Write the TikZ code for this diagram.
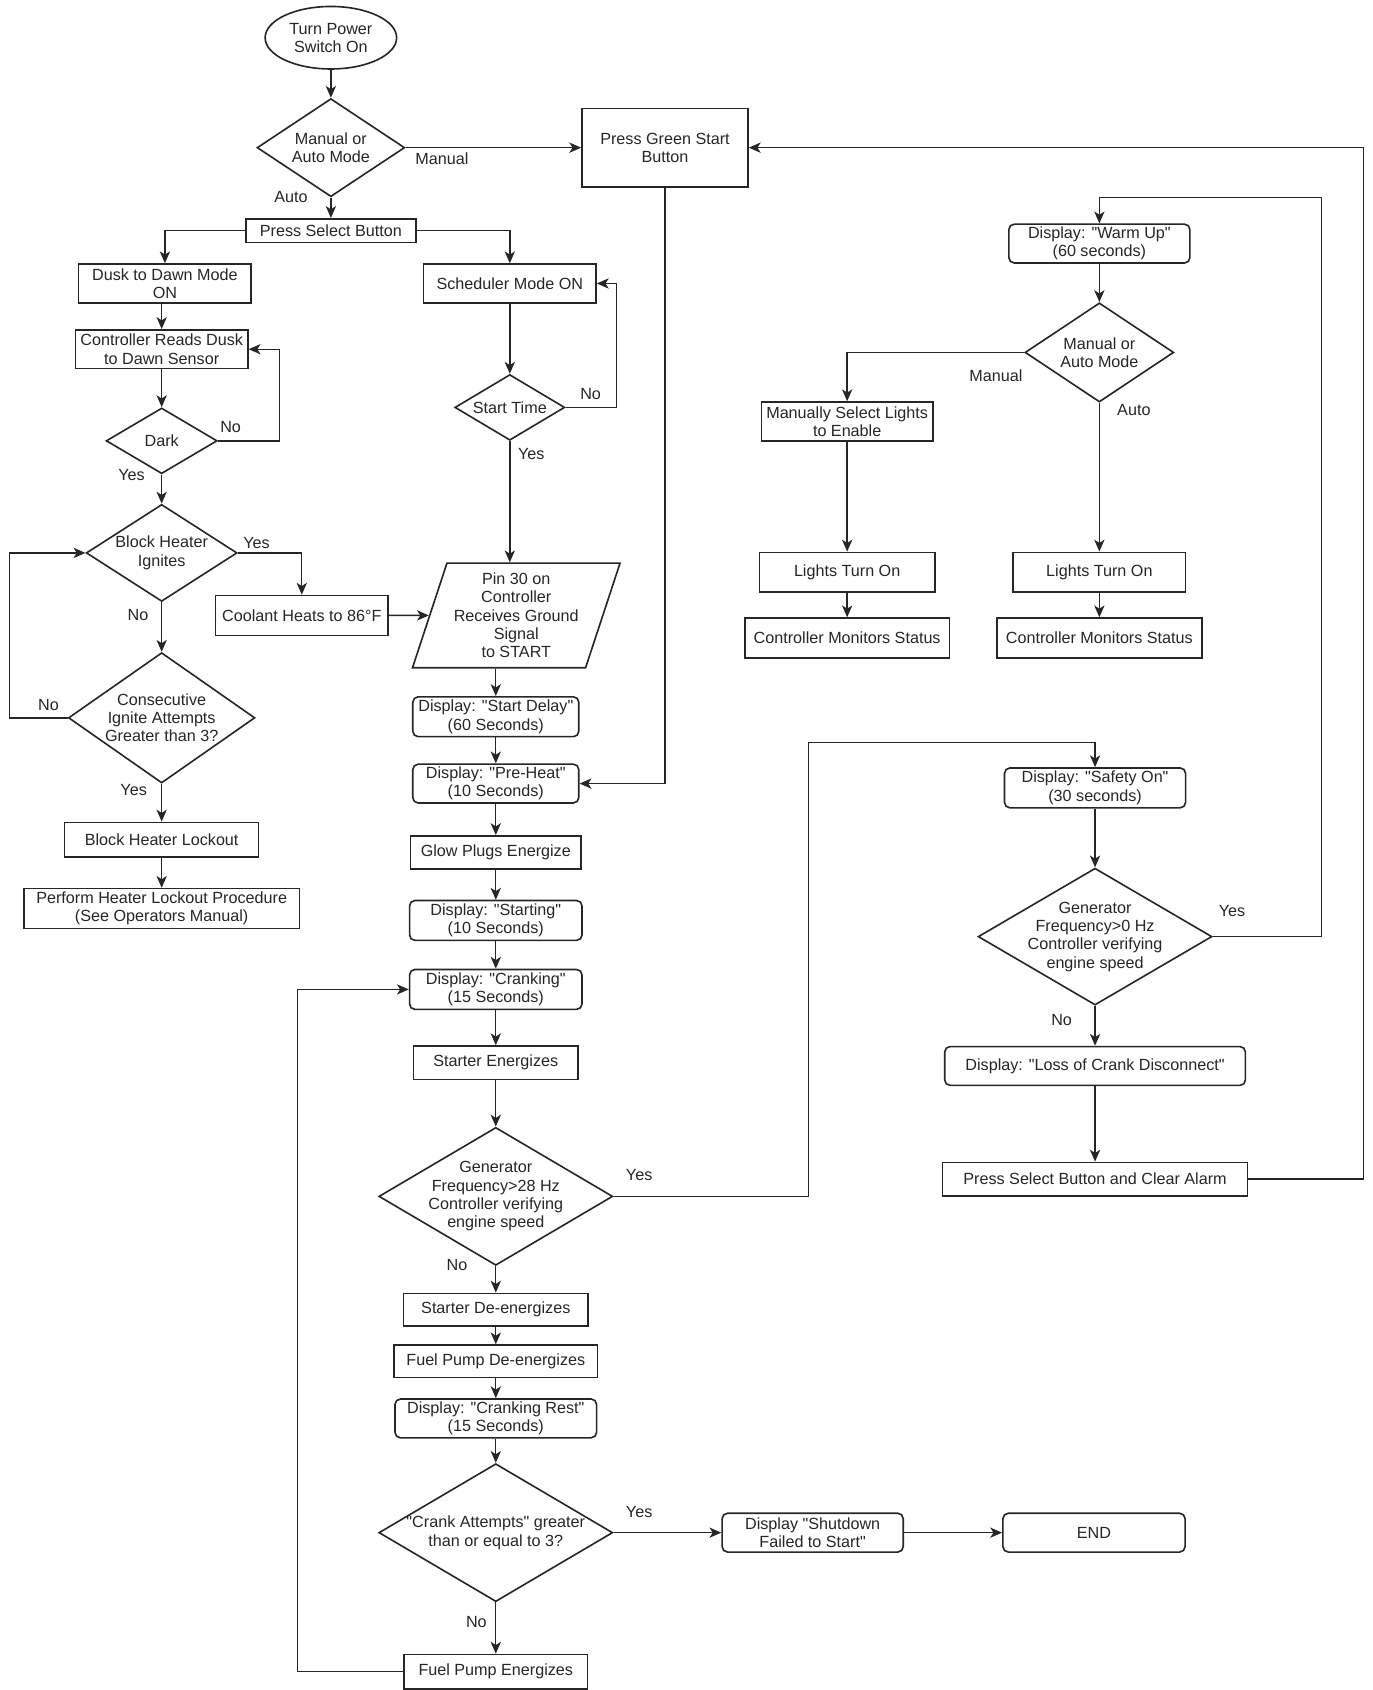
\documentclass[tikz,border=0pt]{standalone}
\usepackage{fontspec}
\setmainfont{Liberation Sans}[Ligatures=TeXOff]
\usetikzlibrary{positioning, arrows.meta, shapes.geometric}

\begin{document}
\begin{tikzpicture}[
    x=1pt, y=-1pt,
    every node/.style={font=\fontsize{15}{17}\selectfont, text=black!85},
    box/.style={draw=black!85, rectangle, line width=1.5pt, align=center, inner sep=0pt},
    dbox/.style={box, rounded corners=5pt},
    decision/.style={draw=black!85, diamond, line width=1.5pt, inner sep=0pt},
    term/.style={draw=black!85, ellipse, line width=1.5pt, align=center, inner sep=0pt},
    io/.style={draw=black!85, trapezium, trapezium left angle=70, trapezium right angle=110,
               trapezium stretches=true, line width=1.5pt, align=center, inner sep=0pt},
    lbl/.style={inner sep=1pt},
    arr/.style={-{Stealth[length=11pt, width=9.5pt, inset=3pt]}, line width=1.3pt, draw=black!85},
]
\useasboundingbox (0,0) rectangle (1273,1568);

% Start and mode selection
\node[term, minimum width=122, minimum height=58] (start) at (307,35) {Turn Power\\Switch On};
\node[decision, minimum width=137, minimum height=91,
      label={[align=center]center:Manual or\\Auto Mode}] (mode1) at (307,137) {};
\node[box, minimum width=154, minimum height=73] (green) at (617,137) {Press Green Start\\Button};
\node[box, minimum width=158, minimum height=22] (select) at (307,214) {Press Select Button};

% Dusk to dawn branch
\node[box, minimum width=160, minimum height=36] (dusk) at (153,263) {Dusk to Dawn Mode\\ON};
\node[box, minimum width=160, minimum height=36] (reads) at (150,324) {Controller Reads Dusk\\to Dawn Sensor};
\node[decision, minimum width=103, minimum height=61,
      label={center:Dark}] (dark) at (150,409) {};
\node[decision, minimum width=140, minimum height=90,
      label={[align=center]center:Block Heater\\Ignites}] (heat) at (150,513) {};
\node[box, minimum width=160, minimum height=37] (coolant) at (280,571) {Coolant Heats to 86°F};
\node[decision, minimum width=173, minimum height=121,
      label={[align=center]center:Consecutive\\Ignite Attempts\\Greater than 3?}] (consec) at (150,666) {};
\node[box, minimum width=180, minimum height=32] (lockout) at (150,779) {Block Heater Lockout};
\node[box, minimum width=256, minimum height=37] (perform) at (150,843) {Perform Heater Lockout Procedure\\(See Operators Manual)};

% Scheduler branch
\node[box, minimum width=160, minimum height=36] (sched) at (473,263) {Scheduler Mode ON};
\node[decision, minimum width=102, minimum height=61,
      label={center:Start Time}] (stime) at (473,378) {};
\node[io, minimum width=193, minimum height=97] (pin) at (479,571) {Pin 30 on\\Controller\\Receives Ground\\Signal\\to START};

% Start sequence
\node[dbox, minimum width=154, minimum height=37] (delay) at (460,665) {Display: "Start Delay"\\(60 Seconds)};
\node[dbox, minimum width=154, minimum height=36] (preheat) at (460,727) {Display: "Pre-Heat"\\(10 Seconds)};
\node[box, minimum width=158, minimum height=31] (glow) at (460,791) {Glow Plugs Energize};
\node[dbox, minimum width=160, minimum height=37] (starting) at (460,854) {Display: "Starting"\\(10 Seconds)};
\node[dbox, minimum width=160, minimum height=37] (cranking) at (460,918) {Display: "Cranking"\\(15 Seconds)};
\node[box, minimum width=153, minimum height=31] (starter) at (460,986) {Starter Energizes};
\node[decision, minimum width=217, minimum height=128,
      label={[align=center]center:Generator\\Frequency>28 Hz\\Controller verifying\\engine speed}] (gen28) at (460,1110) {};
\node[box, minimum width=171, minimum height=30] (stde) at (460,1215) {Starter De-energizes};
\node[box, minimum width=189, minimum height=30] (fpde) at (460,1263) {Fuel Pump De-energizes};
\node[dbox, minimum width=187, minimum height=36] (rest) at (460,1316) {Display: "Cranking Rest"\\(15 Seconds)};
\node[decision, minimum width=217, minimum height=128,
      label={[align=center]center:"Crank Attempts" greater\\than or equal to 3?}] (crank) at (460,1422) {};
\node[dbox, minimum width=168, minimum height=36] (shut) at (754,1422) {Display "Shutdown\\Failed to Start"};
\node[dbox, minimum width=169, minimum height=36] (end) at (1015,1422) {END};
\node[box, minimum width=170, minimum height=32] (fpe) at (460,1551) {Fuel Pump Energizes};

% Warm up and lights
\node[dbox, minimum width=168, minimum height=36] (warm) at (1020,226) {Display: "Warm Up"\\(60 seconds)};
\node[decision, minimum width=138, minimum height=92,
      label={[align=center]center:Manual or\\Auto Mode}] (mode2) at (1020,327) {};
\node[box, minimum width=159, minimum height=36] (manual) at (786,391) {Manually Select Lights\\to Enable};
\node[box, minimum width=163, minimum height=37] (lightsL) at (786,531) {Lights Turn On};
\node[box, minimum width=190, minimum height=37] (monL) at (786,592) {Controller Monitors Status};
\node[box, minimum width=160, minimum height=37] (lightsR) at (1020,531) {Lights Turn On};
\node[box, minimum width=190, minimum height=37] (monR) at (1020,592) {Controller Monitors Status};

% Safety check
\node[dbox, minimum width=168, minimum height=37] (safety) at (1016,731) {Display: "Safety On"\\(30 seconds)};
\node[decision, minimum width=217, minimum height=127,
      label={[align=center]center:Generator\\Frequency>0 Hz\\Controller verifying\\engine speed}] (gen0) at (1016,869) {};
\node[dbox, minimum width=279, minimum height=36] (loss) at (1016,989) {Display: "Loss of Crank Disconnect"};
\node[box, minimum width=283, minimum height=31] (clear) at (1016,1094) {Press Select Button and Clear Alarm};

\coordinate (yesturn) at (750,689);
\coordinate (warmturn) at (1226,183);

% Labels
\node[lbl] (lman1) at (410,147) {Manual};
\node[lbl] (lauto1) at (270,183) {Auto};
\node[lbl] (ldarkno) at (214,396) {No};
\node[lbl] (ldarkyes) at (122,441) {Yes};
\node[lbl] (ltimeno) at (548,366) {No};
\node[lbl] (ltimeyes) at (493,421) {Yes};
\node[lbl] (lheatyes) at (238,504) {Yes};
\node[lbl] (lheatno) at (128,571) {No};
\node[lbl] (lconsno) at (45,654) {No};
\node[lbl] (lconsyes) at (124,733) {Yes};
\node[lbl] (lgenyes) at (593,1090) {Yes};
\node[lbl] (lgenno) at (424,1174) {No};
\node[lbl] (lcrankyes) at (593,1403) {Yes};
\node[lbl] (lcrankno) at (442,1505) {No};
\node[lbl] (lman2) at (924,349) {Manual};
\node[lbl] (lauto2) at (1052,380) {Auto};
\node[lbl] (lsafeyes) at (1143,845) {Yes};
\node[lbl] (lsafeno) at (985,946) {No};

% Arrows
\foreach \a/\b in {start/mode1, mode1/green, mode1/select, reads/dark, dark/heat, heat/consec,
                   consec/lockout, lockout/perform, coolant/pin, sched/stime,
                   delay/preheat, preheat/glow, glow/starting, starting/cranking,
                   cranking/starter, starter/gen28, gen28/stde, stde/fpde, fpde/rest,
                   rest/crank, crank/shut, shut/end, crank/fpe,
                   warm/mode2, mode2/lightsR, manual/lightsL, lightsL/monL, lightsR/monR,
                   safety/gen0, gen0/loss, loss/clear} {
  \draw[arr] (\a) -- (\b);
}
\draw[arr] (select.west) -| (dusk.north);
\draw[arr] (select.east) -| (sched.north);
\draw[arr] (reads |- dusk.south) -- (reads.north);
\draw[arr] (dark.east) -- ++(57,0) |- (reads.east);
\draw[arr] (heat.east) -| (coolant.north);
\draw[arr] (consec.west) -- ++(-54,0) |- (heat.west);
\draw[arr] (stime.east) -- ++(47,0) |- (sched.east);
\draw[arr] (stime.south) -- (stime.south |- pin.north);
\draw[arr] (delay |- pin.south) -- (delay.north);
\draw[arr] (green.south) |- (preheat.east);
\draw[arr] (gen28.east) -| (yesturn) -| (safety.north);
\draw[arr] (fpe.west) -- ++(-98,0) |- (cranking.west);
\draw[arr] (clear.east) -- ++(107,0) |- (green.east);
\draw[arr] (gen0.east) -| (warmturn) -| (warm.north);
\draw[arr] (mode2.west) -| (manual.north);

\end{tikzpicture}
\end{document}
